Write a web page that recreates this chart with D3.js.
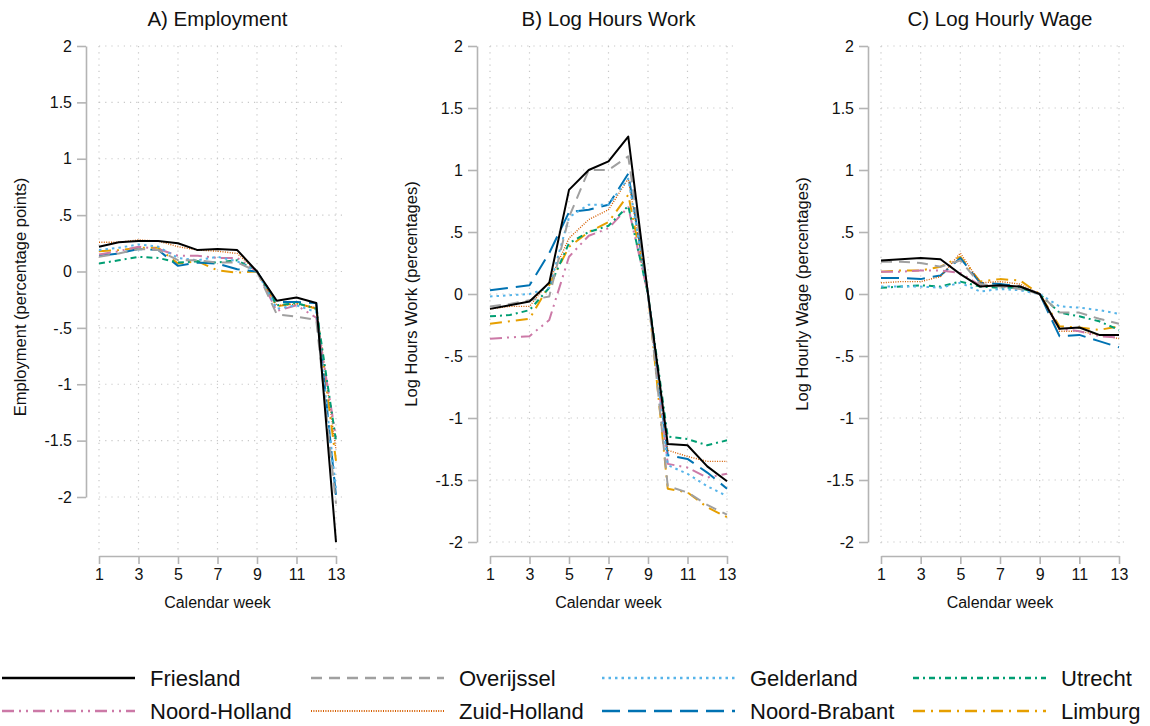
<!DOCTYPE html>
<html>
<head>
<meta charset="utf-8">
<script src="https://cdn.jsdelivr.net/npm/d3@7"></script>
<style>
  body { margin: 0; background: #fff; }
  text { font-family: "Liberation Sans", Arial, sans-serif; fill: #111; }
</style>
</head>
<body>
<div id="chart"></div>
<script>
// calendar weeks on the x axis
var weeks = [1, 2, 3, 4, 5, 6, 7, 8, 9, 10, 11, 12, 13];
var weekTicks = [1, 3, 5, 7, 9, 11, 13];
var yTicks = [2, 1.5, 1, 0.5, 0, -0.5, -1, -1.5, -2];

var regions = ["Friesland", "Overijssel", "Gelderland", "Utrecht",
               "Noord-Holland", "Zuid-Holland", "Noord-Brabant", "Limburg"];

// A) Employment, one row per region (same order as regions)
var employment = [
    [0.22, 0.26, 0.27, 0.27, 0.25, 0.19, 0.20, 0.19, 0.00, -0.26, -0.23, -0.28, -2.40],
    [0.13, 0.16, 0.20, 0.19, 0.10, 0.10, 0.08, 0.08, 0.00, -0.38, -0.40, -0.43, -2.06],
    [0.19, 0.21, 0.24, 0.22, 0.12, 0.10, 0.13, 0.09, 0.00, -0.33, -0.30, -0.36, -1.93],
    [0.07, 0.10, 0.13, 0.12, 0.08, 0.09, 0.08, 0.10, 0.00, -0.30, -0.28, -0.33, -1.50],
    [0.15, 0.18, 0.22, 0.20, 0.14, 0.14, 0.12, 0.12, 0.00, -0.35, -0.30, -0.41, -1.47],
    [0.26, 0.26, 0.28, 0.27, 0.22, 0.19, 0.18, 0.16, 0.00, -0.30, -0.29, -0.32, -1.58],
    [0.14, 0.16, 0.20, 0.19, 0.05, 0.08, 0.07, 0.02, 0.00, -0.27, -0.27, -0.28, -1.99],
    [0.18, 0.19, 0.21, 0.21, 0.07, 0.09, 0.01, -0.01, 0.00, -0.31, -0.28, -0.33, -1.68]
];

// B) Log Hours Work
var hoursWork = [
    [-0.12, -0.09, -0.06, 0.09, 0.84, 1.00, 1.07, 1.27, 0.00, -1.21, -1.22, -1.39, -1.51],
    [-0.10, -0.08, -0.05, -0.02, 0.62, 1.00, 1.00, 1.11, 0.00, -1.55, -1.60, -1.70, -1.78],
    [-0.02, -0.01, 0.00, 0.05, 0.62, 0.72, 0.72, 0.93, 0.00, -1.38, -1.45, -1.55, -1.63],
    [-0.18, -0.17, -0.13, 0.05, 0.41, 0.50, 0.55, 0.71, 0.00, -1.15, -1.17, -1.22, -1.18],
    [-0.36, -0.35, -0.34, -0.21, 0.30, 0.47, 0.53, 0.70, 0.00, -1.37, -1.40, -1.48, -1.45],
    [-0.12, -0.10, -0.10, 0.10, 0.45, 0.60, 0.68, 0.93, 0.00, -1.26, -1.31, -1.35, -1.35],
    [0.03, 0.05, 0.07, 0.33, 0.66, 0.68, 0.72, 0.97, 0.00, -1.30, -1.33, -1.44, -1.57],
    [-0.24, -0.22, -0.20, 0.07, 0.38, 0.50, 0.58, 0.80, 0.00, -1.57, -1.60, -1.72, -1.80]
];

// C) Log Hourly Wage
var hourlyWage = [
    [0.27, 0.28, 0.29, 0.28, 0.16, 0.06, 0.07, 0.06, 0.00, -0.28, -0.27, -0.33, -0.33],
    [0.26, 0.26, 0.25, 0.22, 0.27, 0.08, 0.06, 0.04, 0.00, -0.15, -0.15, -0.20, -0.24],
    [0.06, 0.06, 0.06, 0.05, 0.09, 0.02, 0.04, 0.03, 0.00, -0.10, -0.11, -0.13, -0.16],
    [0.05, 0.06, 0.07, 0.06, 0.10, 0.06, 0.05, 0.05, 0.00, -0.15, -0.18, -0.22, -0.29],
    [0.18, 0.18, 0.19, 0.19, 0.17, 0.07, 0.06, 0.06, 0.00, -0.28, -0.30, -0.34, -0.35],
    [0.09, 0.10, 0.10, 0.14, 0.33, 0.09, 0.10, 0.08, 0.00, -0.30, -0.30, -0.33, -0.36],
    [0.13, 0.13, 0.12, 0.15, 0.29, 0.09, 0.08, 0.06, 0.00, -0.34, -0.33, -0.38, -0.43],
    [0.18, 0.19, 0.19, 0.22, 0.30, 0.10, 0.12, 0.11, 0.00, -0.26, -0.27, -0.29, -0.26]
];

// line look per region
var colors = ["#000000", "#a0a0a0", "#56b4e9", "#009e73",
              "#cc79a7", "#d55e00", "#0072b2", "#e69f00"];
var dashes = ["none", "11,7", "2.5,4", "6,4,2,4",
              "12,5,2,5,2,5", "1,1.4", "18,8", "12,6,2,6"];
var widths = [2, 2, 2, 2, 2, 1.4, 2, 2];

var svg = d3.select("#chart").append("svg")
    .attr("width", 1150)
    .attr("height", 726);

function fmt(v) {
    if (v === 0) return "0";
    var s = String(Math.abs(v)).replace(/^0\./, ".");
    return (v < 0 ? "-" : "") + s;
}

var panels = [
    {title: "A) Employment", ylab: "Employment (percentage points)", data: employment,
     xr: [99, 336], yr: [497, 46], yAxisX: 86, ylabX: 20, gridBottom: 548},
    {title: "B) Log Hours Work", ylab: "Log Hours Work (percentages)", data: hoursWork,
     xr: [490, 727], yr: [542, 46], yAxisX: 477, ylabX: 411, gridBottom: 542},
    {title: "C) Log Hourly Wage", ylab: "Log Hourly Wage (percentages)", data: hourlyWage,
     xr: [881, 1119], yr: [542, 46], yAxisX: 868, ylabX: 802, gridBottom: 542}
];

var xAxisY = 556;

panels.forEach(function (p) {
    var x = d3.scaleLinear().domain([1, 13]).range(p.xr);
    var y = d3.scaleLinear().domain([-2, 2]).range(p.yr);
    var g = svg.append("g");

    // dotted grid
    g.selectAll(".hgrid").data(yTicks).enter().append("line")
        .attr("x1", p.xr[0]).attr("x2", p.xr[1] + 6)
        .attr("y1", function (d) { return y(d); })
        .attr("y2", function (d) { return y(d); })
        .attr("stroke", "#c8c8c8").attr("stroke-width", 1.2)
        .attr("stroke-dasharray", "1.2,5");
    g.selectAll(".vgrid").data(weekTicks).enter().append("line")
        .attr("x1", function (d) { return x(d); })
        .attr("x2", function (d) { return x(d); })
        .attr("y1", p.yr[1]).attr("y2", p.gridBottom + 6)
        .attr("stroke", "#c8c8c8").attr("stroke-width", 1.2)
        .attr("stroke-dasharray", "1.2,5");

    // y axis
    var ya = g.append("g")
        .attr("transform", "translate(" + p.yAxisX + ",0)")
        .call(d3.axisLeft(y).tickValues(yTicks).tickFormat(fmt)
            .tickSize(9).tickSizeOuter(0).tickPadding(5));
    // x axis
    var xa = g.append("g")
        .attr("transform", "translate(0," + xAxisY + ")")
        .call(d3.axisBottom(x).tickValues(weekTicks).tickFormat(d3.format("d"))
            .tickSize(8).tickSizeOuter(0).tickPadding(5));
    [ya, xa].forEach(function (a) {
        a.select(".domain").attr("stroke", "#b4b4b4").attr("stroke-width", 1.6);
        a.selectAll(".tick line").attr("stroke", "#b4b4b4").attr("stroke-width", 1.6);
        a.selectAll(".tick text").style("font-size", "16px")
            .style("font-family", "Liberation Sans, Arial, sans-serif").attr("fill", "#111");
    });

    // series lines
    var line = d3.line()
        .x(function (d, i) { return x(weeks[i]); })
        .y(function (d) { return y(d); });
    g.selectAll(".series").data(p.data.map(function (v, i) { return {v: v, i: i}; }).reverse())
        .enter().append("path")
        .attr("d", function (d) { return line(d.v); })
        .attr("fill", "none")
        .attr("stroke", function (d) { return colors[d.i]; })
        .attr("stroke-width", function (d) { return widths[d.i]; })
        .attr("stroke-dasharray", function (d) { return dashes[d.i]; })
        .attr("stroke-linejoin", "round");

    // titles
    g.append("text")
        .attr("x", (p.xr[0] + p.xr[1]) / 2).attr("y", 26)
        .attr("text-anchor", "middle")
        .style("font-size", "20.5px")
        .text(p.title);
    g.append("text")
        .attr("x", (p.xr[0] + p.xr[1]) / 2).attr("y", 608)
        .attr("text-anchor", "middle")
        .style("font-size", "16px")
        .text("Calendar week");
    g.append("text")
        .attr("transform", "translate(" + p.ylabX + "," + ((p.yr[1] + p.gridBottom) / 2) + ") rotate(-90)")
        .attr("text-anchor", "middle")
        .attr("dy", "0.35em")
        .style("font-size", "16.5px")
        .text(p.ylab);
});

// legend: two rows of four
var legendCols = [0, 309, 600, 911];
var legendRows = [678, 711];
var lg = svg.append("g");
regions.forEach(function (name, k) {
    var cx = legendCols[k % 4], cy = legendRows[Math.floor(k / 4)];
    lg.append("line")
        .attr("x1", cx + 2).attr("x2", cx + 135)
        .attr("y1", cy).attr("y2", cy)
        .attr("stroke", colors[k])
        .attr("stroke-width", widths[k] + 0.6)
        .attr("stroke-dasharray", dashes[k]);
    lg.append("text")
        .attr("x", cx + 150).attr("y", cy)
        .attr("dy", "0.36em")
        .style("font-size", "22px")
        .text(name);
});
</script>
</body>
</html>
